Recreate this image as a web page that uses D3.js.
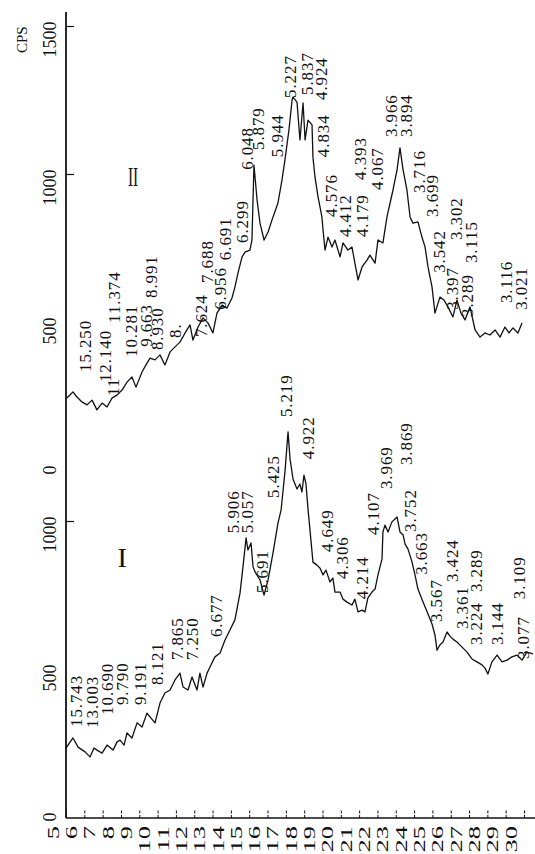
<!DOCTYPE html>
<html><head><meta charset="utf-8">
<script src="https://cdn.jsdelivr.net/npm/d3@7"></script>
<style>
html,body{margin:0;padding:0;background:#fff;}
svg{display:block;}
text{font-family:"Liberation Serif","DejaVu Serif",serif;fill:#111;}
</style></head>
<body>
<svg id="chart" width="535" height="854"></svg>
<script>
// ---- data (2θ in degrees, intensity in CPS) ----
const twoThetaII = [5.05,5.38,5.55,5.87,6.15,6.42,6.69,6.97,7.24,7.51,7.78,8.06,8.33,8.60,8.82,9.15,9.42,9.59,9.86,10.13,10.40,10.68,10.95,11.22,11.50,11.77,11.93,12.21,12.48,12.75,13.02,13.24,13.52,13.79,14.06,14.22,14.39,14.61,14.77,15.04,15.15,15.26,15.43,15.59,15.81,16.03,16.30,16.57,16.79,16.95,17.17,17.34,17.39,17.61,17.77,17.94,18.05,18.21,18.43,18.48,18.59,18.76,18.97,19.03,19.14,19.30,19.52,19.68,19.96,20.12,20.39,20.61,20.77,20.94,21.16,21.43,21.59,21.87,22.03,22.30,22.52,22.69,22.85,23.07,23.23,23.40,23.61,23.78,23.94,24.21,24.43,24.60,24.76,24.98,25.14,25.41,25.63,25.85,26.12,26.34,26.56,26.78,27.05,27.33,27.60,27.87,28.14,28.42,28.69,28.96,29.18,29.40,29.67,29.89];
const cpsII = [243,264,250,230,220,236,203,226,213,243,253,270,297,314,280,331,361,378,372,389,355,399,416,432,463,490,439,483,514,497,463,530,557,547,581,618,666,720,736,743,777,1030,912,834,777,804,855,902,980,1047,1149,1250,1260,1243,1115,1240,1115,1182,1166,1057,990,922,855,811,743,787,753,777,720,767,743,753,699,642,686,709,726,699,777,767,855,902,946,1014,1088,1014,946,855,834,838,787,753,686,618,530,584,574,551,517,574,530,507,551,473,449,463,456,473,449,483,463,480,463,497];

const twoThetaI = [5.00,5.22,5.38,5.66,6.04,6.31,6.53,6.69,6.97,7.24,7.57,7.78,7.95,8.17,8.33,8.60,8.88,9.15,9.42,9.64,9.86,10.13,10.40,10.68,10.95,11.22,11.39,11.66,11.88,12.15,12.31,12.48,12.70,12.86,13.13,13.41,13.68,13.95,14.22,14.50,14.66,14.83,14.93,15.10,15.21,15.32,15.59,15.81,16.03,16.30,16.57,16.74,16.96,17.12,17.23,17.39,17.61,17.77,17.88,17.99,18.10,18.21,18.43,18.48,18.70,18.86,19.03,19.19,19.41,19.57,19.68,19.96,20.12,20.34,20.61,20.77,20.94,21.16,21.32,21.48,21.70,21.87,22.03,22.25,22.30,22.41,22.58,22.79,22.96,23.07,23.23,23.40,23.51,23.67,23.89,24.05,24.21,24.49,24.71,24.98,25.14,25.25,25.41,25.58,25.80,25.96,26.12,26.34,26.62,26.89,27.16,27.43,27.71,27.87,28.03,28.25,28.53,28.80,29.07,29.34,29.62,29.89,30.16,30.49];
const cpsI = [233,253,267,236,220,203,233,226,216,243,226,253,260,243,284,267,318,304,351,334,318,385,419,429,463,486,439,429,473,429,486,439,486,507,541,554,598,632,666,757,845,943,902,926,845,828,801,750,801,892,993,1037,1172,1301,1209,1142,1108,1125,1098,1155,1125,1041,895,861,851,841,818,834,794,807,760,760,736,726,716,736,693,699,693,740,760,770,818,872,963,986,963,997,1007,1014,963,953,922,905,861,818,770,726,693,652,615,564,581,591,625,611,601,591,574,557,534,524,514,503,483,524,547,524,530,541,547,530,557,551];

// peak labels (d-spacing text, 2θ and CPS at the start of the label)
const labelsII = ["15.250","12.140","11","11.374","10.281","9.663","8.991","8.930","8.","7.624","7.688","6.956","6.691","6.299","6.048","5.879","5.944","5.227","5.837","4.924","4.834","4.576","4.412","4.393","4.179","4.067","3.966","3.894","3.716","3.699","3.302","3.542","3.397","3.115","3.289","3.116","3.021"];
const labelsII2t = [6.04,7.13,7.57,7.67,8.60,9.37,9.69,9.97,11.00,12.42,12.70,13.46,13.73,14.61,14.88,15.53,16.52,17.23,18.16,18.97,19.03,19.47,20.23,21.05,21.16,21.98,22.79,23.56,24.27,25.03,26.34,25.41,26.07,27.16,26.89,29.07,29.89];
const labelsIIcps = [331,297,250,497,382,416,581,405,446,449,632,541,709,767,1014,1081,1057,1257,1267,1250,1057,855,787,980,787,946,1125,1125,936,855,777,666,541,699,517,564,541];

const labelsI = ["15.743","13.003","10.690","9.790","9.191","8.121","7.865","7.250","6.677","5.906","5.057","5.691","5.425","5.219","4.922","4.649","4.306","4.214","4.107","3.969","3.869","3.752","3.663","3.567","3.424","3.361","3.289","3.224","3.144","3.109","3.077"];
const labelsI2t = [5.55,6.47,7.24,8.06,9.04,9.97,11.06,11.93,13.24,14.12,14.93,15.70,16.35,17.06,18.21,19.25,20.12,21.16,21.81,22.47,23.61,23.78,24.38,25.20,26.07,26.62,27.43,27.43,28.53,29.73,29.95];
const labelsIcps = [304,301,345,378,378,446,530,530,608,959,959,757,1078,1351,1209,895,804,736,953,1108,1189,963,818,659,794,635,760,581,581,736,534];

// axes
const xTicks = [5,6,7,8,9,10,11,12,13,14,15,16,17,18,19,20,21,22,23,24,25,26,27,28,29,30];
const yTicksI = [0,500,1000];
const yTicksII = [0,500,1000,1500];
const yMarksI = [1000];
const yMarksII = [1000,1500];
const traceNames = ["I","II"];
const traceNamePos = [[8.06,878],[8.66,990]];
const yTitle = "CPS";

// ---- drawing ----
const svg = d3.select("#chart");
const x = d3.scaleLinear().domain([5,30]).range([66,524]);
const yI = d3.scaleLinear().domain([0,1000]).range([817,521]);
const yII = d3.scaleLinear().domain([0,1500]).range([470,26]);
const axisY = 818, axisX = 66;

// bottom axis
const gx = svg.append("g").attr("transform",`translate(0,${axisY})`)
  .call(d3.axisBottom(x).tickValues(xTicks).tickSizeInner(-8).tickSizeOuter(0).tickPadding(0));
gx.select(".domain").remove();
gx.selectAll(".tick line").attr("stroke","#111").attr("stroke-width",1).attr("stroke-dasharray","3,1.5");
gx.selectAll(".tick text")
  .attr("x",null).attr("y",null).attr("dy",null)
  .attr("transform","translate(-13,8) rotate(-90) scale(1.65,1)")
  .attr("text-anchor","end").attr("dominant-baseline","central")
  .style("font-size","16px").style("font-family",'"Liberation Serif",serif').attr("fill","#111");
svg.append("line").attr("x1",axisX).attr("x2",535).attr("y1",axisY).attr("y2",axisY)
  .attr("stroke","#111").attr("stroke-width",1.6);
svg.append("line").attr("x1",axisX).attr("x2",axisX).attr("y1",12).attr("y2",axisY)
  .attr("stroke","#111").attr("stroke-width",1.8);

// y labels
function yLabels(scale, vals){
  const g = svg.append("g").attr("transform",`translate(${axisX},0)`)
    .call(d3.axisLeft(scale).tickValues(vals).tickSize(0).tickFormat(d3.format("d")));
  g.select(".domain").remove();
  g.selectAll(".tick text").attr("x",null).attr("dy",null)
    .attr("transform","translate(-16,-5) rotate(-90)")
    .attr("text-anchor","end").attr("dominant-baseline","central")
    .style("font-size","18px").style("font-family",'"Liberation Serif",serif').attr("fill","#111");
}
yLabels(yII, yTicksII);
yLabels(yI, yTicksI);
function yMarks(scale, vals){
  const g = svg.append("g").attr("transform",`translate(${axisX},0)`)
    .call(d3.axisRight(scale).tickValues(vals).tickSize(8).tickFormat(""));
  g.select(".domain").remove();
  g.selectAll(".tick line").attr("stroke","#111").attr("stroke-width",1.2);
}
yMarks(yII, yMarksII);
yMarks(yI, yMarksI);

svg.append("text").text(yTitle)
  .attr("transform","translate(22,53) rotate(-90)")
  .attr("text-anchor","start").attr("dominant-baseline","central")
  .style("font-size","15px");

// traces
const dataI = twoThetaI.map((t,i)=>[t,cpsI[i]]);
const dataII = twoThetaII.map((t,i)=>[t,cpsII[i]]);
const lineI = d3.line().x(d=>x(d[0])).y(d=>yI(d[1]));
const lineII = d3.line().x(d=>x(d[0])).y(d=>yII(d[1]));
svg.append("path").datum(dataI).attr("d",lineI).attr("fill","none")
  .attr("stroke","#111").attr("stroke-width",1.3).attr("stroke-linejoin","round");
svg.append("path").datum(dataII).attr("d",lineII).attr("fill","none")
  .attr("stroke","#111").attr("stroke-width",1.3).attr("stroke-linejoin","round");

// peak labels
function peakLabels(texts, tt, cc, scale){
  svg.append("g").selectAll("text").data(texts).join("text")
    .text(d=>d)
    .attr("transform",(d,i)=>`translate(${x(tt[i])},${scale(cc[i])}) rotate(-90)`)
    .attr("text-anchor","start").attr("dominant-baseline","central")
    .style("font-size","17px").style("letter-spacing","0.9px");
}
peakLabels(labelsII, labelsII2t, labelsIIcps, yII);
peakLabels(labelsI, labelsI2t, labelsIcps, yI);

// trace names
svg.append("text").text(traceNames[0])
  .attr("x",x(traceNamePos[0][0])).attr("y",yI(traceNamePos[0][1]))
  .attr("text-anchor","middle").attr("dominant-baseline","central").style("font-size","28px");
svg.append("text").text(traceNames[1])
  .attr("transform",`translate(${x(traceNamePos[1][0])},${yII(traceNamePos[1][1])}) scale(0.55,1)`)
  .attr("text-anchor","middle").attr("dominant-baseline","central").style("font-size","28px");
</script>
</body></html>
